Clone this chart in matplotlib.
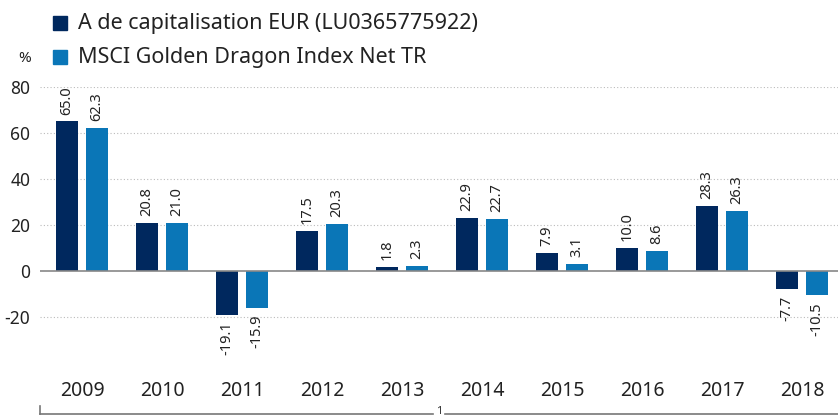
import numpy as np
import matplotlib.pyplot as plt
from matplotlib.patches import Rectangle
from matplotlib.lines import Line2D

plt.rcParams["font.family"] = ["Noto Sans", "DejaVu Sans"]

# -----------------------------
# Data
# -----------------------------
years = ["2009", "2010", "2011", "2012", "2013", "2014", "2015", "2016", "2017", "2018"]
fund = [65.0, 20.8, -19.1, 17.5, 1.8, 22.9, 7.9, 10.0, 28.3, -7.7]
index = [62.3, 21.0, -15.9, 20.3, 2.3, 22.7, 3.1, 8.6, 26.3, -10.5]
series_names = ["A de capitalisation EUR (LU0365775922)", "MSCI Golden Dragon Index Net TR"]
y_ticks = [-20, 0, 20, 40, 60, 80]

DARK = "#00285e"
LIGHT = "#0a76b7"
TEXT = "#222222"

W, H = 838, 419
fig = plt.figure(figsize=(W / 100, H / 100), dpi=100)
ax = fig.add_axes([40 / W, 1 - 363 / H, 798 / W, 276 / H])

x = np.arange(len(years))
width = 0.275
offset = 0.19

for xs, vals, color in [(x - offset, fund, DARK), (x + offset, index, LIGHT)]:
    ax.bar(xs, vals, width=width, color=color, zorder=3)
    for xi, v in zip(xs, vals):
        if v >= 0:
            ax.annotate(f"{v:.1f}", (xi, v), xytext=(0, 5), textcoords="offset points",
                        rotation=90, ha="center", va="bottom", fontsize=10.5, color=TEXT)
        else:
            ax.annotate(f"{v:.1f}", (xi, v), xytext=(0, -5), textcoords="offset points",
                        rotation=90, ha="center", va="top", fontsize=10.5, color=TEXT)

ax.set_xlim(-0.525, 9.45)
ax.set_ylim(-40, 80)

# gridlines
for t in y_ticks:
    if t == 0:
        ax.axhline(0, color="#888888", lw=1.2, zorder=4)
    else:
        ax.axhline(t, color="#bbbbbb", lw=0.8, ls=(0, (1, 2)), zorder=1)

ax.set_yticks(y_ticks)
ax.set_yticklabels([str(t) for t in y_ticks], fontsize=12.5, color=TEXT)
ax.set_xticks(x)
ax.set_xticklabels(years, fontsize=14, color=TEXT)
ax.tick_params(axis="both", length=0)
ax.tick_params(axis="y", pad=7)
ax.tick_params(axis="x", pad=13)
for s in ax.spines.values():
    s.set_visible(False)

# legend (drawn by hand to match the placement)
for row_y, name, color in [(23, series_names[0], DARK), (57, series_names[1], LIGHT)]:
    fig.add_artist(Rectangle((53 / W, 1 - (row_y + 7) / H), 14 / W, 14 / H,
                             color=color, transform=fig.transFigure))
    fig.text(78 / W, 1 - row_y / H, name, fontsize=15.5, color=TEXT,
             ha="left", va="center")
fig.text(25 / W, 1 - 58 / H, "%", fontsize=11, color=TEXT, ha="center", va="center")

# bottom bracket
y_br = 1 - 414 / H
fig.add_artist(Line2D([40 / W, 433 / W], [y_br, y_br], color="#777777", lw=1.2))
fig.add_artist(Line2D([445 / W, 1.0], [y_br, y_br], color="#777777", lw=1.2))
fig.add_artist(Line2D([40 / W, 40 / W], [y_br, 1 - 406 / H], color="#777777", lw=1.2))
fig.text(439 / W, 1 - 411 / H, "1", fontsize=8, color=TEXT, ha="center", va="center")

fig.savefig("out.png", dpi=100)
